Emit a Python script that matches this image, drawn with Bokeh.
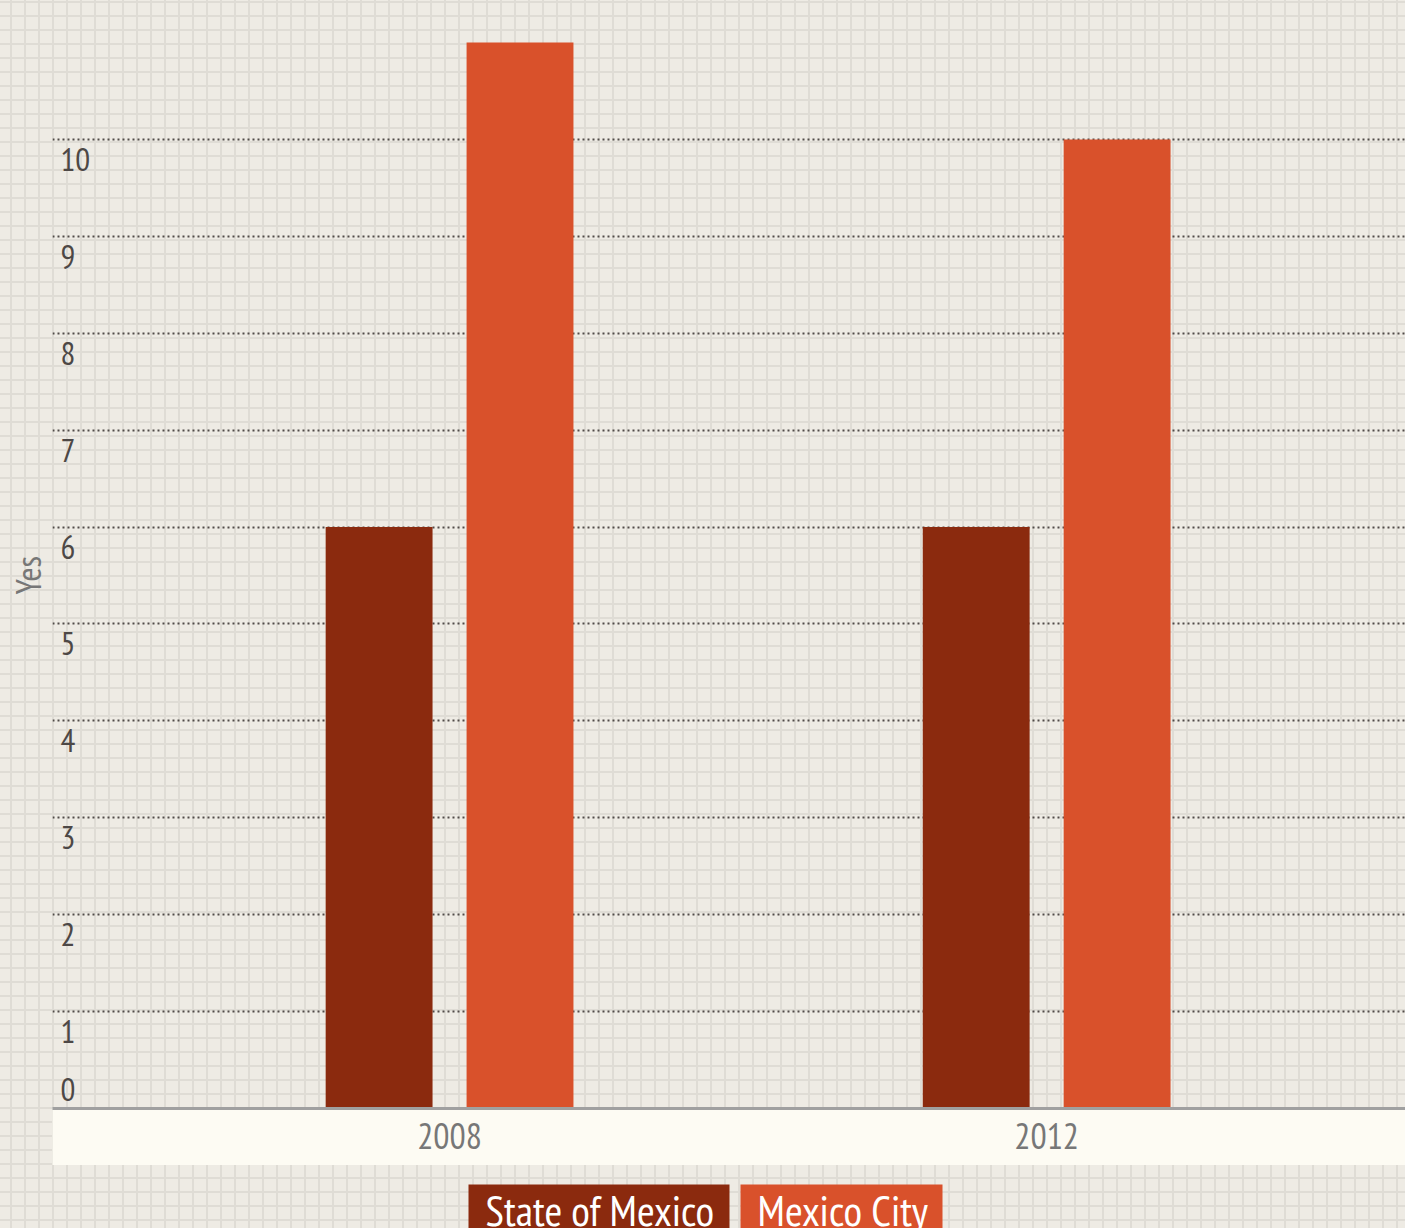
from bokeh.plotting import figure
from bokeh.layouts import column
from bokeh.models import Range1d, FixedTicker, ColumnDataSource, Title
from bokeh.core.properties import value
from bokeh.embed import file_html
from bokeh.resources import INLINE

years = ["2008", "2012"]
state_of_mexico = [6, 6]
mexico_city = [11, 10]
y_ticks = [0, 1, 2, 3, 4, 5, 6, 7, 8, 9, 10]
y_tick_labels = ["0", "1", "2", "3", "4", "5", "6", "7", "8", "9", "10"]
series_names = ["State of Mexico", "Mexico City"]
y_title = "Yes"

BG = "#eeebe4"
PAT = "#dfdcd5"
C_STATE = "#8b2a0e"
C_CITY = "#d9512b"
FONT = "PT Sans Narrow"

W = 1405
MAIN_H = 1165
LEG_H = 63
LEFT = 52

p = figure(width=W, height=MAIN_H, output_backend="svg", toolbar_location=None,
           x_range=Range1d(-0.665, 1.601), y_range=Range1d(0, 11.433),
           min_border_left=LEFT, min_border_right=0, min_border_top=0, min_border_bottom=56)
p.outline_line_color = None
p.background_fill_alpha = 0
p.border_fill_alpha = 0

idx = list(range(len(years)))
src = ColumnDataSource(dict(x_state=[i - 0.118 for i in idx], x_city=[i + 0.118 for i in idx],
                            state=state_of_mexico, city=mexico_city))
p.vbar(x="x_state", top="state", bottom=0, width=0.179, source=src, fill_color=C_STATE, line_color=None)
p.vbar(x="x_city", top="city", bottom=0, width=0.179, source=src, fill_color=C_CITY, line_color=None)

ya = p.yaxis[0]
ya.ticker = FixedTicker(ticks=y_ticks)
ya.visible = False

p.add_layout(Title(text=y_title, align="left", offset=514, standoff=6,
                   text_font=FONT, text_font_size="34px", text_font_style="normal",
                   text_color="#777777"), "left")

p.ygrid.ticker = FixedTicker(ticks=y_ticks[1:])
p.ygrid.grid_line_color = "#514b48"
p.ygrid.grid_line_width = 2
p.ygrid.grid_line_dash = "2 3"
p.xgrid.visible = False

lab_src = ColumnDataSource(dict(
    x=[p.x_range.start] * len(y_ticks), y=y_ticks, t=y_tick_labels,
    yo=[-19 if v == 0 else 20 for v in y_ticks]))
p.text(x="x", y="y", text="t", source=lab_src, x_offset=8, y_offset="yo",
       text_align="left", text_baseline="middle", text_font=value(FONT),
       text_font_size="33px", text_color="#4d4846")

xa = p.xaxis[0]
xa.ticker = FixedTicker(ticks=idx)
xa.major_label_overrides = {i: y for i, y in zip(idx, years)}
xa.major_tick_out = 0
xa.major_tick_in = 0
xa.minor_tick_out = 0
xa.minor_tick_in = 0
xa.axis_line_color = "#a0a0a0"
xa.axis_line_width = 3
xa.major_label_standoff = 14
xa.major_label_text_font = FONT
xa.major_label_text_font_size = "36px"
xa.major_label_text_color = "#777777"
xa.axis_label = " "
xa.axis_label_standoff = 0
xa.axis_label_text_font_size = "10px"
xa.background_fill_color = "#fdfbf3"

lg = figure(width=W, height=LEG_H, output_backend="svg", toolbar_location=None,
            x_range=Range1d(LEFT, W), y_range=Range1d(LEG_H, 0),
            min_border_left=LEFT, min_border_right=0, min_border_top=0, min_border_bottom=0)
lg.axis.visible = False
lg.grid.visible = False
lg.outline_line_color = None
lg.background_fill_alpha = 0
lg.border_fill_alpha = 0

leg_left = [468, 740]
leg_width = [261, 202]
leg_src = ColumnDataSource(dict(
    left=leg_left, right=[l + w for l, w in zip(leg_left, leg_width)],
    tx=[l + 17 for l in leg_left], name=series_names, color=[C_STATE, C_CITY]))
lg.quad(left="left", right="right", top=19, bottom=LEG_H + 20, source=leg_src,
        fill_color="color", line_color=None)
lg.text(x="tx", y=16, text="name", source=leg_src, text_align="left",
        text_baseline="top", text_font=value(FONT), text_font_size="43px",
        text_color="white")

pattern_css = {
    "background-color": BG,
    "background-image": (f"linear-gradient({PAT} 2px, transparent 2px), "
                         f"linear-gradient(90deg, {PAT} 2px, transparent 2px)"),
    "background-size": "14px 14px",
    "background-position": "10px 1px",
}
layout = column(p, lg, spacing=0, styles=pattern_css)
open("out.html", "w").write(file_html(layout, INLINE))
